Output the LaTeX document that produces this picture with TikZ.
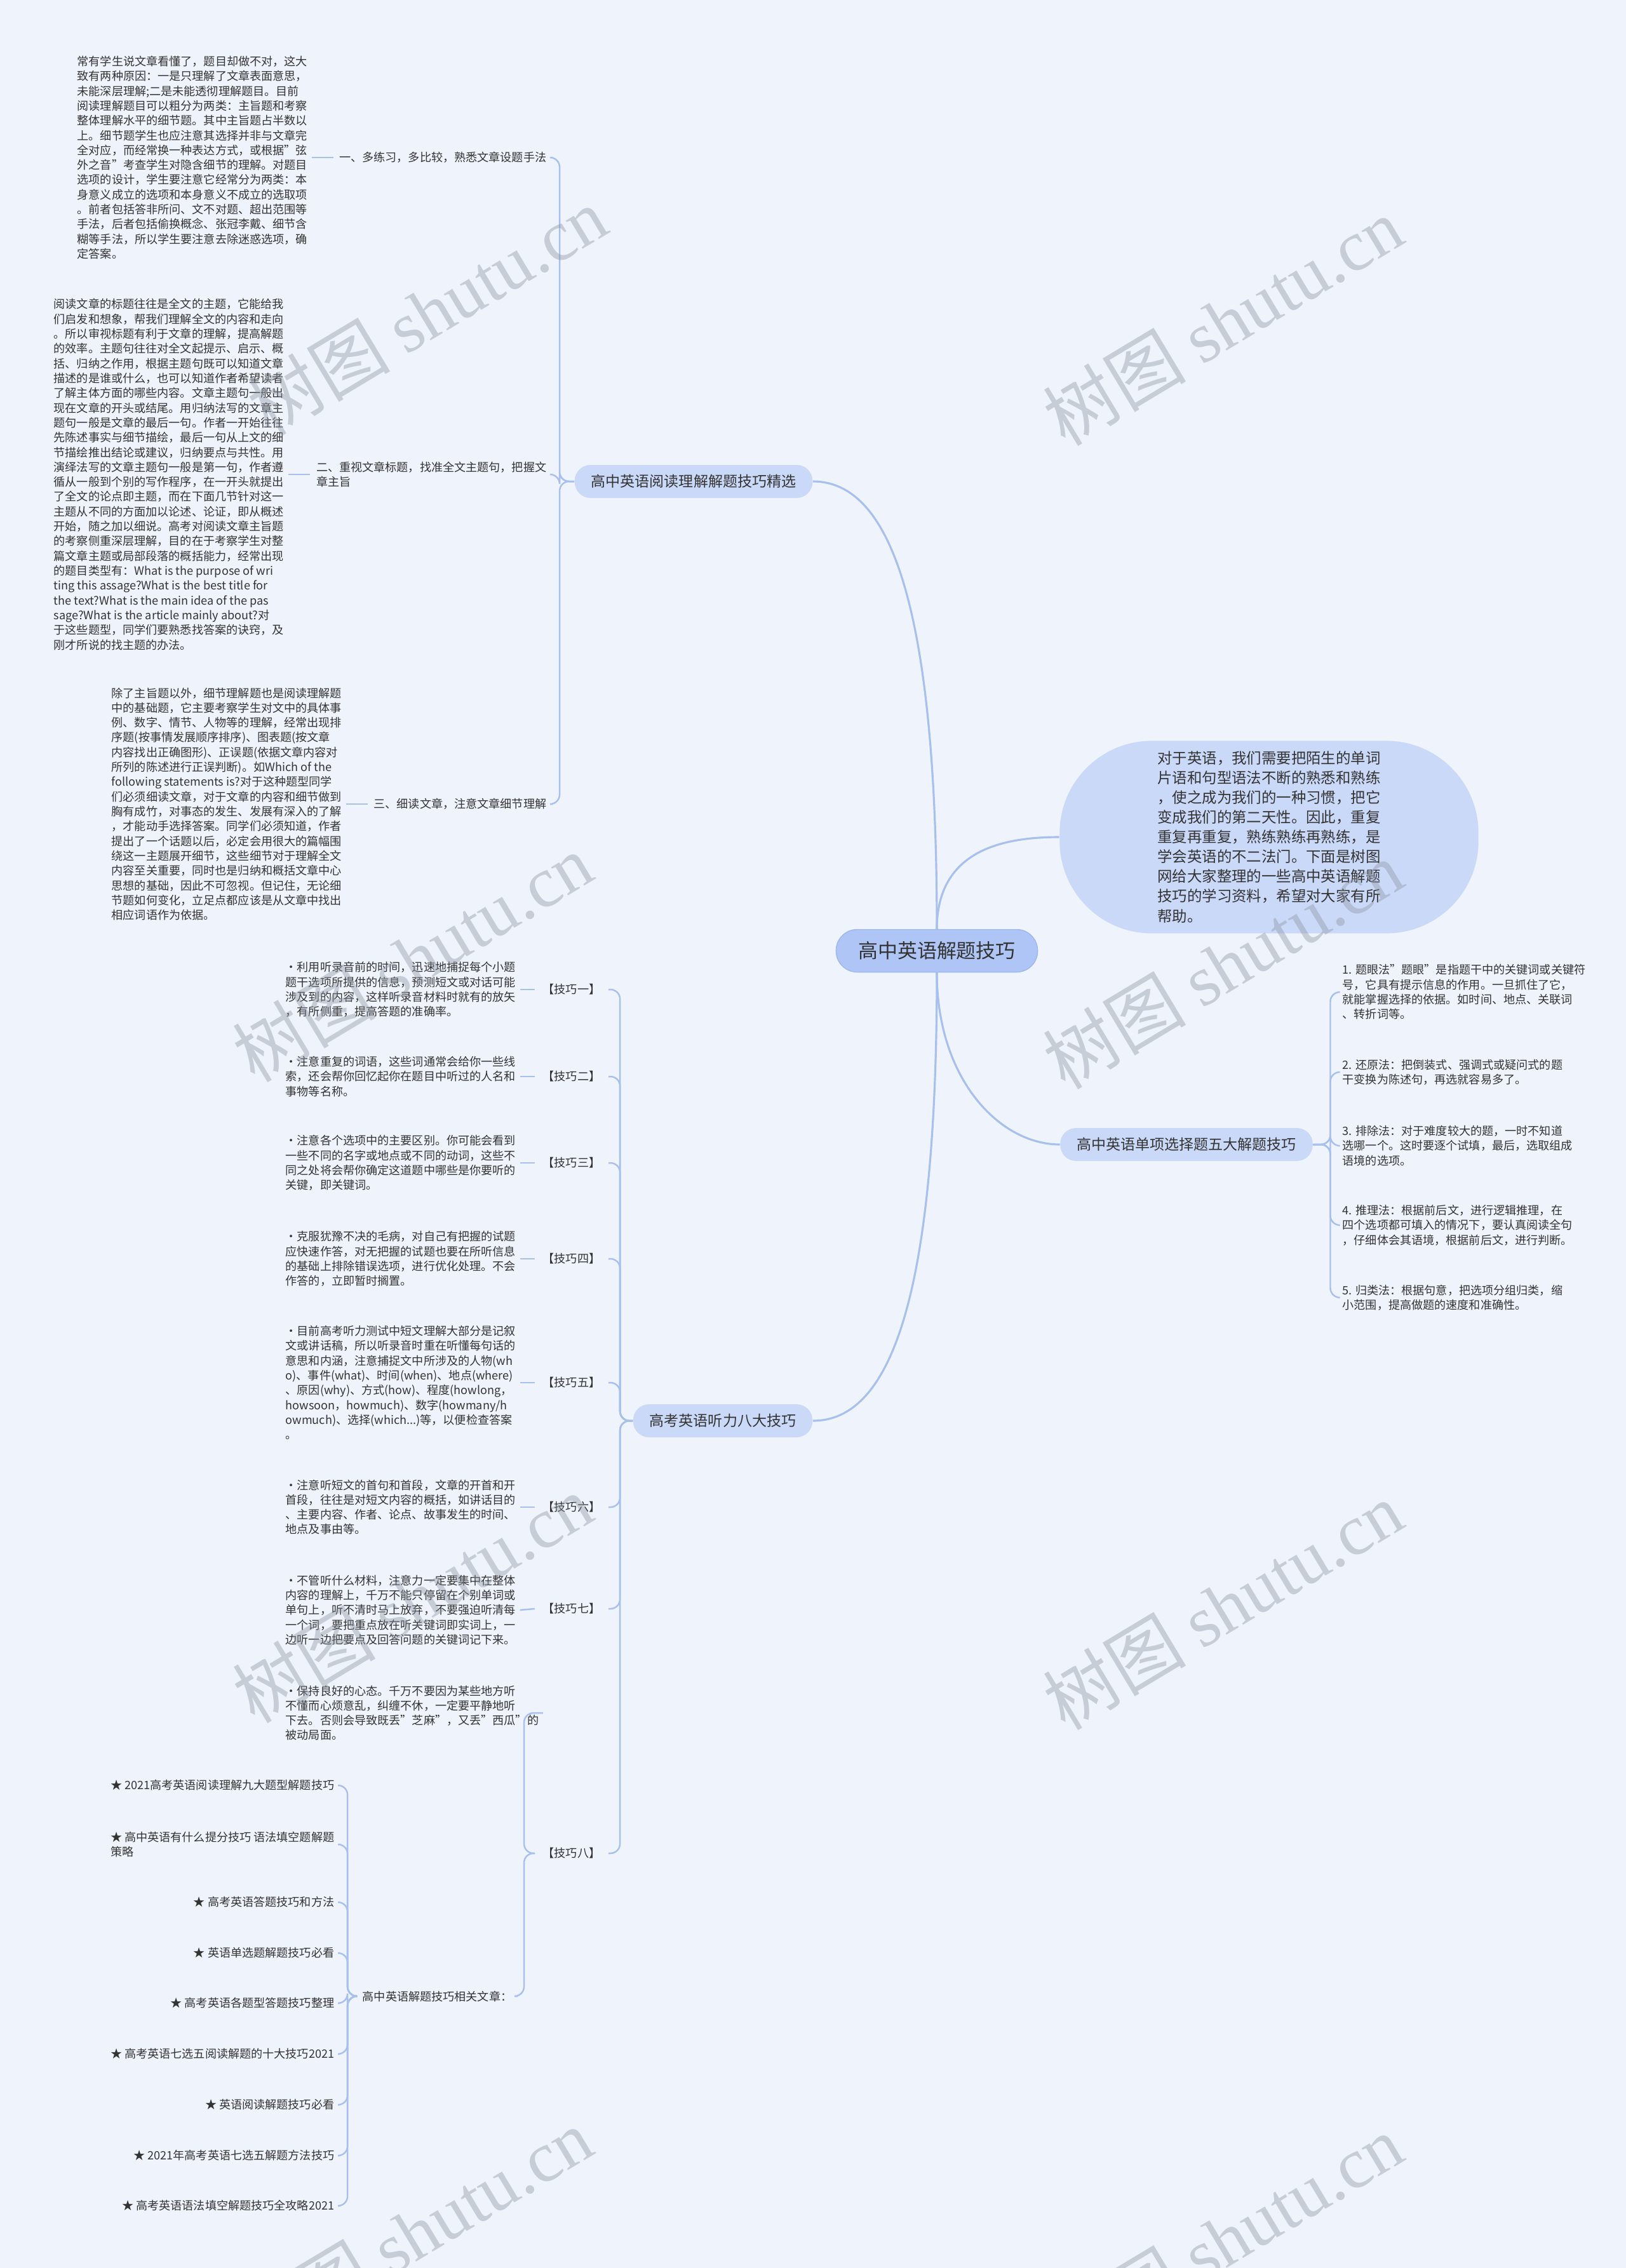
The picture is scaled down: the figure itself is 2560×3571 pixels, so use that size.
\documentclass[tikz,border=0pt]{standalone}
\usepackage{fontspec}
\setmainfont{Noto Sans CJK SC}
\newfontfamily\wmlatin{Liberation Serif}

\definecolor{fond}{HTML}{EEF3FC}
\definecolor{trait}{HTML}{A8C0EE}
\definecolor{racinefill}{HTML}{AEC5F5}
\definecolor{racinedraw}{HTML}{9DB8F0}
\definecolor{branchefill}{HTML}{CBD9F9}
\definecolor{texte}{HTML}{333333}
\definecolor{filigrane}{HTML}{8C94A0}

\tikzset{
  petit/.style={font=\fontsize{5.15}{6.63}\selectfont, text=texte, align=left, inner sep=0.06cm},
  etiq/.style={petit, inner xsep=0.09cm},
  branchebox/.style={fill=branchefill, rounded corners=0.25cm, minimum height=0.52cm,
    inner xsep=0.26cm, font=\fontsize{6.55}{8}\selectfont, text=texte},
  racinebox/.style={fill=racinefill, draw=racinedraw, line width=0.4pt, rounded corners=0.33cm,
    minimum width=3.17cm, minimum height=0.67cm, font=\fontsize{8.8}{10}\selectfont, text=texte},
  introbox/.style={fill=branchefill, rounded corners=1.45cm, minimum width=6.59cm,
    minimum height=3.03cm, align=left, font=\fontsize{6.66}{8.82}\selectfont, text=texte},
  lien/.style={draw=trait, line width=0.9pt},
  souslien/.style={draw=trait, line width=0.7pt, rounded corners=0.15cm},
  filig/.style={text=filigrane, opacity=0.4, rotate=31, font=\fontsize{32}{32}\selectfont}
}

\begin{document}
\begin{tikzpicture}[x=0.01cm, y=-0.01cm]
  \useasboundingbox (0,0) rectangle (2560,3571);
  \fill[fond] (0,0) rectangle (2560,3571);

  % Racine et branches
  \node[racinebox] (racine) at (1475,1497) {高中英语解题技巧};
  \node[branchebox] (rd) at (1092,758) {高中英语阅读理解解题技巧精选};
  \node[branchebox] (dx) at (1868,1802) {高中英语单项选择题五大解题技巧};
  \node[branchebox] (tl) at (1138,2237) {高考英语听力八大技巧};
  \node[introbox] (intro) at (1998,1318) {对于英语，我们需要把陌生的单词\\片语和句型语法不断的熟悉和熟练\\，使之成为我们的一种习惯，把它\\变成我们的第二天性。因此，重复\\重复再重复，熟练熟练再熟练，是\\学会英语的不二法门。下面是树图\\网给大家整理的一些高中英语解题\\技巧的学习资料，希望对大家有所\\帮助。};

  \draw[lien] (racine.north) .. controls +(0,-514) and +(120,0) .. (rd.east);
  \draw[lien] (racine.north) .. controls +(0,-124) and +(-89,0) .. (intro.west);
  \draw[lien] (racine.south) .. controls +(0,169) and +(-94,0) .. (dx.west);
  \draw[lien] (racine.south) .. controls +(0,519) and +(120,0) .. (tl.east);

  % Branche lecture
  \node[etiq, anchor=east] (r1) at (870,248) {一、多练习，多比较，熟悉文章设题手法};
  \node[etiq, anchor=east] (r2) at (870,747) {二、重视文章标题，找准全文主题句，把握文\\章主旨};
  \node[etiq, anchor=east] (r3) at (870,1266) {三、细读文章，注意文章细节理解};
  \foreach \n in {r1,r2,r3}
    \draw[souslien] (rd.west) -- ++(-23,0) |- (\n.east);

  \node[petit, anchor=west] (ra) at (115,248) {常有学生说文章看懂了，题目却做不对，这大\\致有两种原因：一是只理解了文章表面意思，\\未能深层理解;二是未能透彻理解题目。目前\\阅读理解题目可以粗分为两类：主旨题和考察\\整体理解水平的细节题。其中主旨题占半数以\\上。细节题学生也应注意其选择并非与文章完\\全对应，而经常换一种表达方式，或根据"弦\\外之音"考查学生对隐含细节的理解。对题目\\选项的设计，学生要注意它经常分为两类：本\\身意义成立的选项和本身意义不成立的选取项\\。前者包括答非所问、文不对题、超出范围等\\手法，后者包括偷换概念、张冠李戴、细节含\\糊等手法，所以学生要注意去除迷惑选项，确\\定答案。};
  \node[petit, anchor=west] (rb) at (78,747) {阅读文章的标题往往是全文的主题，它能给我\\们启发和想象，帮我们理解全文的内容和走向\\。所以审视标题有利于文章的理解，提高解题\\的效率。主题句往往对全文起提示、启示、概\\括、归纳之作用，根据主题句既可以知道文章\\描述的是谁或什么，也可以知道作者希望读者\\了解主体方面的哪些内容。文章主题句一般出\\现在文章的开头或结尾。用归纳法写的文章主\\题句一般是文章的最后一句。作者一开始往往\\先陈述事实与细节描绘，最后一句从上文的细\\节描绘推出结论或建议，归纳要点与共性。用\\演绎法写的文章主题句一般是第一句，作者遵\\循从一般到个别的写作程序，在一开头就提出\\了全文的论点即主题，而在下面几节针对这一\\主题从不同的方面加以论述、论证，即从概述\\开始，随之加以细说。高考对阅读文章主旨题\\的考察侧重深层理解，目的在于考察学生对整\\篇文章主题或局部段落的概括能力，经常出现\\的题目类型有：What is the purpose of wri\\ting this assage?What is the best title for\\the text?What is the main idea of the pas\\sage?What is the article mainly about?对\\于这些题型，同学们要熟悉找答案的诀窍，及\\刚才所说的找主题的办法。};
  \node[petit, anchor=west] (rc) at (169,1266) {除了主旨题以外，细节理解题也是阅读理解题\\中的基础题，它主要考察学生对文中的具体事\\例、数字、情节、人物等的理解，经常出现排\\序题(按事情发展顺序排序)、图表题(按文章\\内容找出正确图形)、正误题(依据文章内容对\\所列的陈述进行正误判断)。如Which of the\\following statements is?对于这种题型同学\\们必须细读文章，对于文章的内容和细节做到\\胸有成竹，对事态的发生、发展有深入的了解\\，才能动手选择答案。同学们必须知道，作者\\提出了一个话题以后，必定会用很大的篇幅围\\绕这一主题展开细节，这些细节对于理解全文\\内容至关重要，同时也是归纳和概括文章中心\\思想的基础，因此不可忽视。但记住，无论细\\节题如何变化，立足点都应该是从文章中找出\\相应词语作为依据。};
  \draw[souslien] (ra.east) -- (r1.west);
  \draw[souslien] (rb.east) -- (r2.west);
  \draw[souslien] (rc.east) -- (r3.west);

  % Branche choix unique
  \node[petit, anchor=west] (s1) at (2107,1562) {1. 题眼法"题眼"是指题干中的关键词或关键符\\号，它具有提示信息的作用。一旦抓住了它，\\就能掌握选择的依据。如时间、地点、关联词\\、转折词等。};
  \node[petit, anchor=west] (s2) at (2107,1688) {2. 还原法：把倒装式、强调式或疑问式的题\\干变换为陈述句，再选就容易多了。};
  \node[petit, anchor=west] (s3) at (2107,1804) {3. 排除法：对于难度较大的题，一时不知道\\选哪一个。这时要逐个试填，最后，选取组成\\语境的选项。};
  \node[petit, anchor=west] (s4) at (2107,1929) {4. 推理法：根据前后文，进行逻辑推理，在\\四个选项都可填入的情况下，要认真阅读全句\\，仔细体会其语境，根据前后文，进行判断。};
  \node[petit, anchor=west] (s5) at (2107,2043) {5. 归类法：根据句意，把选项分组归类，缩\\小范围，提高做题的速度和准确性。};
  \foreach \n in {s1,s2,s3,s4,s5}
    \draw[souslien] (dx.east) -- ++(27,0) |- (\n.west);

  % Branche ecoute
  \node[etiq, anchor=east, inner xsep=0.12cm] (k1) at (958,1558) {【技巧一】};
  \node[etiq, anchor=east, inner xsep=0.12cm] (k2) at (958,1695) {【技巧二】};
  \node[etiq, anchor=east, inner xsep=0.12cm] (k3) at (958,1831) {【技巧三】};
  \node[etiq, anchor=east, inner xsep=0.12cm] (k4) at (958,1982) {【技巧四】};
  \node[etiq, anchor=east, inner xsep=0.12cm] (k5) at (958,2177) {【技巧五】};
  \node[etiq, anchor=east, inner xsep=0.12cm] (k6) at (958,2373) {【技巧六】};
  \node[etiq, anchor=east, inner xsep=0.12cm] (k7) at (958,2533) {【技巧七】};
  \node[etiq, anchor=east, inner xsep=0.12cm] (k8) at (958,2918) {【技巧八】};
  \foreach \i in {1,...,8}
    \draw[souslien] (tl.west) -- ++(-20,0) |- (k\i.east);

  \node[petit, anchor=west] (kt1) at (443,1558) {•利用听录音前的时间，迅速地捕捉每个小题\\题干选项所提供的信息，预测短文或对话可能\\涉及到的内容，这样听录音材料时就有的放矢\\，有所侧重，提高答题的准确率。};
  \node[petit, anchor=west] (kt2) at (443,1695) {•注意重复的词语，这些词通常会给你一些线\\索，还会帮你回忆起你在题目中听过的人名和\\事物等名称。};
  \node[petit, anchor=west] (kt3) at (443,1831) {•注意各个选项中的主要区别。你可能会看到\\一些不同的名字或地点或不同的动词，这些不\\同之处将会帮你确定这道题中哪些是你要听的\\关键，即关键词。};
  \node[petit, anchor=west] (kt4) at (443,1982) {•克服犹豫不决的毛病，对自己有把握的试题\\应快速作答，对无把握的试题也要在所听信息\\的基础上排除错误选项，进行优化处理。不会\\作答的，立即暂时搁置。};
  \node[petit, anchor=west] (kt5) at (443,2177) {•目前高考听力测试中短文理解大部分是记叙\\文或讲话稿，所以听录音时重在听懂每句话的\\意思和内涵，注意捕捉文中所涉及的人物(wh\\o)、事件(what)、时间(when)、地点(where)\\、原因(why)、方式(how)、程度(howlong，\\howsoon，howmuch)、数字(howmany/h\\owmuch)、选择(which...)等，以便检查答案\\。};
  \node[petit, anchor=west] (kt6) at (443,2373) {•注意听短文的首句和首段，文章的开首和开\\首段，往往是对短文内容的概括，如讲话目的\\、主要内容、作者、论点、故事发生的时间、\\地点及事由等。};
  \node[petit, anchor=west] (kt7) at (443,2535) {•不管听什么材料，注意力一定要集中在整体\\内容的理解上，千万不能只停留在个别单词或\\单句上，听不清时马上放弃，不要强迫听清每\\一个词，要把重点放在听关键词即实词上，一\\边听一边把要点及回答问题的关键词记下来。};
  \node[petit, anchor=west] (kt8) at (443,2697) {•保持良好的心态。千万不要因为某些地方听\\不懂而心烦意乱，纠缠不休，一定要平静地听\\下去。否则会导致既丢"芝麻"，又丢"西瓜"的\\被动局面。};
  \foreach \i in {1,...,7}
    \draw[souslien] (kt\i.east) -- (k\i.west);

  % Articles lies
  \node[petit, anchor=east, inner xsep=0.08cm] (rel) at (815,3143) {高中英语解题技巧相关文章：};
  \draw[souslien] (k8.west) -- ++(-17,0) |- (kt8.east);
  \draw[souslien] (k8.west) -- ++(-17,0) |- (rel.east);

  \node[petit, anchor=east, inner sep=0.08cm] (st1) at (535,2811) {★ 2021高考英语阅读理解九大题型解题技巧};
  \node[petit, anchor=east, inner sep=0.08cm] (st2) at (535,2904) {★ 高中英语有什么提分技巧 语法填空题解题\\策略};
  \node[petit, anchor=east, inner sep=0.08cm] (st3) at (535,2995) {★ 高考英语答题技巧和方法};
  \node[petit, anchor=east, inner sep=0.08cm] (st4) at (535,3075) {★ 英语单选题解题技巧必看};
  \node[petit, anchor=east, inner sep=0.08cm] (st5) at (535,3154) {★ 高考英语各题型答题技巧整理};
  \node[petit, anchor=east, inner sep=0.08cm] (st6) at (535,3234) {★ 高考英语七选五阅读解题的十大技巧2021};
  \node[petit, anchor=east, inner sep=0.08cm] (st7) at (535,3314) {★ 英语阅读解题技巧必看};
  \node[petit, anchor=east, inner sep=0.08cm] (st8) at (535,3394) {★ 2021年高考英语七选五解题方法技巧};
  \node[petit, anchor=east, inner sep=0.08cm] (st9) at (535,3473) {★ 高考英语语法填空解题技巧全攻略2021};
  \foreach \i in {1,...,9}
    \draw[souslien] (rel.west) -- ++(-15,0) |- (st\i.east);

  % Filigrane
  \foreach \x/\y in {672/490, 1925/506, 649/1508, 1925/1519, 649/2517, 1925/2528, 649/3515, 1925/3525} {
    \node[filig] (wm) at (\x,\y) {树图 {\wmlatin shutu.cn}};
  }
\end{tikzpicture}
\end{document}
